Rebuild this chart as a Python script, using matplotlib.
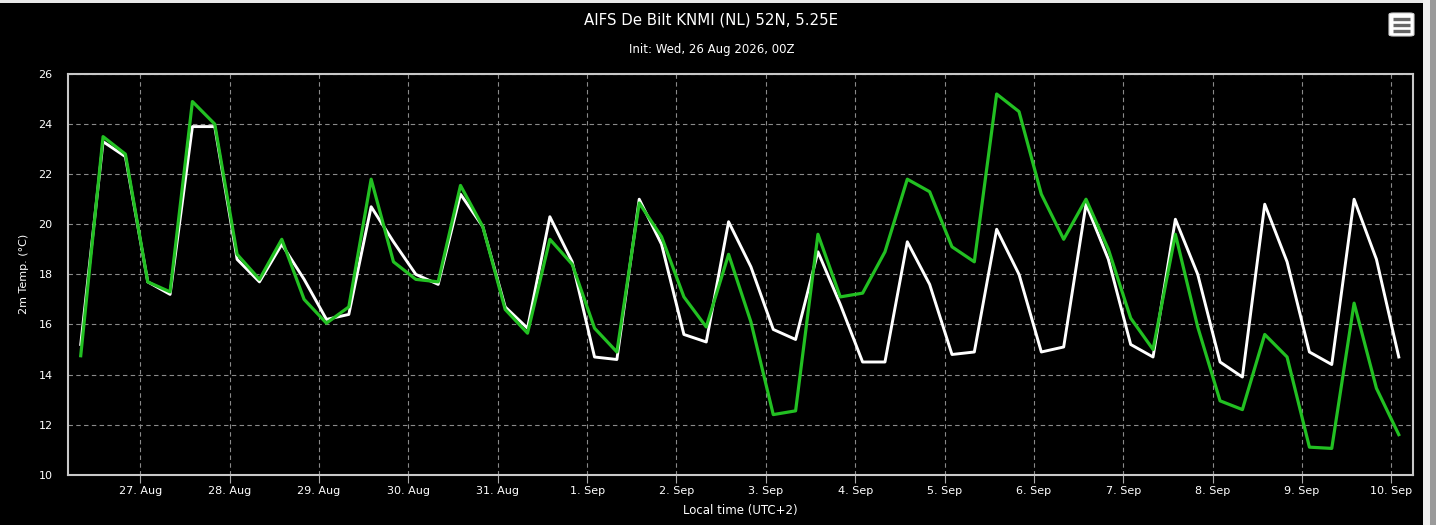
import matplotlib
matplotlib.use('Agg')
import matplotlib.pyplot as plt
import matplotlib.dates as mdates
from matplotlib.patches import Rectangle, FancyBboxPatch
import pandas as pd

# 6-hourly steps in local time (UTC+2), first step 26 Aug 08:00
times = pd.date_range('2026-08-26 08:00', periods=60, freq='6h')

white_vals = [15.2, 23.3, 22.7, 17.7, 17.2, 23.9, 23.9, 18.6, 17.7, 19.2, 17.8, 16.2,
              16.4, 20.7, 19.3, 18.0, 17.6, 21.2, 19.9, 16.7, 15.85, 20.3, 18.5, 14.7,
              14.6, 21.0, 19.2, 15.6, 15.3, 20.1, 18.3, 15.8, 15.4, 18.9, 16.8, 14.5,
              14.5, 19.3, 17.6, 14.8, 14.9, 19.8, 18.0, 14.9, 15.1, 20.8, 18.6, 15.2,
              14.7, 20.2, 18.0, 14.5, 13.9, 20.8, 18.5, 14.9, 14.4, 21.0, 18.6, 14.7]

green_vals = [14.75, 23.5, 22.8, 17.7, 17.3, 24.9, 24.0, 18.8, 17.8, 19.4, 17.0, 16.05,
              16.7, 21.8, 18.5, 17.8, 17.7, 21.55, 19.9, 16.6, 15.65, 19.4, 18.4, 15.85,
              14.9, 20.85, 19.5, 17.1, 15.9, 18.8, 16.1, 12.4, 12.55, 19.6, 17.1, 17.25,
              18.9, 21.8, 21.3, 19.1, 18.5, 25.2, 24.5, 21.2, 19.4, 21.0, 19.0, 16.25,
              15.0, 19.6, 15.9, 12.95, 12.6, 15.6, 14.7, 11.1, 11.05, 16.85, 13.45, 11.6]

title = 'AIFS De Bilt KNMI (NL) 52N, 5.25E'
subtitle = 'Init: Wed, 26 Aug 2026, 00Z'

W, H = 1436, 525
fig = plt.figure(figsize=(W / 100, H / 100), dpi=100)
fig.patch.set_facecolor('black')

# page frame bits around the chart container
fig.patches.append(Rectangle((0, 1 - 3 / H), 1, 3 / H, transform=fig.transFigure,
                             facecolor='#e8e8e8', edgecolor='none', zorder=0))
fig.patches.append(Rectangle((1423 / W, 0), 7 / W, 1, transform=fig.transFigure,
                             facecolor='#f0f0f0', edgecolor='none', zorder=0))
fig.patches.append(Rectangle((1430 / W, 0), 6 / W, 1, transform=fig.transFigure,
                             facecolor='#9a9a9a', edgecolor='none', zorder=0))

# menu button
fig.patches.append(FancyBboxPatch((1389 / W, 1 - 36 / H), 25 / W, 23 / H,
                                  boxstyle='round,pad=0,rounding_size=0.003',
                                  transform=fig.transFigure, facecolor='white',
                                  edgecolor='#d0d0d0', lw=0.8, zorder=2))
for yy in (18.5, 24.5, 30.5):
    fig.add_artist(plt.Line2D([1393 / W, 1410 / W], [1 - yy / H, 1 - yy / H],
                              transform=fig.transFigure, color='#666666', lw=2.4,
                              solid_capstyle='butt', zorder=3))

ax = fig.add_axes([68 / W, 50.3 / H, (1413.3 - 68) / W, (474.7 - 74) / H])
ax.set_facecolor('black')

ax.plot(times, white_vals, color='white', lw=2.1, zorder=3)
ax.plot(times, green_vals, color='#22c022', lw=2.3, zorder=4)

ax.set_ylim(10, 26)
ax.set_yticks(range(10, 27, 2))
ax.set_xlim(pd.Timestamp('2026-08-26 04:35'), pd.Timestamp('2026-09-10 05:54'))

ax.xaxis.set_major_locator(mdates.DayLocator())
ax.xaxis.set_major_formatter(plt.FuncFormatter(
    lambda v, p: '%d. %s' % (mdates.num2date(v).day, mdates.num2date(v).strftime('%b'))))

ax.grid(True, color='#8a8a8a', lw=0.8, linestyle=(0, (4, 3)))
ax.set_axisbelow(True)

for s in ax.spines.values():
    s.set_color('#c8c8c8')
    s.set_linewidth(1.5)

ax.tick_params(axis='y', length=0, pad=11, labelsize=8, labelcolor='white')
ax.tick_params(axis='x', length=6, width=0.8, color='#aaaaaa', pad=2,
               labelsize=8, labelcolor='white')

ax.set_ylabel('2m Temp. (°C)', color='white', fontsize=8, labelpad=7)
ax.set_xlabel('Local time (UTC+2)', color='white', fontsize=8.5, labelpad=6)

fig.text(711.5 / W, 1 - 20 / H, title, color='white', fontsize=10.8,
         ha='center', va='center')
fig.text(711.5 / W, 1 - 49 / H, subtitle, color='white', fontsize=8.5,
         ha='center', va='center')

fig.savefig('out.png', dpi=100, facecolor=fig.get_facecolor())
